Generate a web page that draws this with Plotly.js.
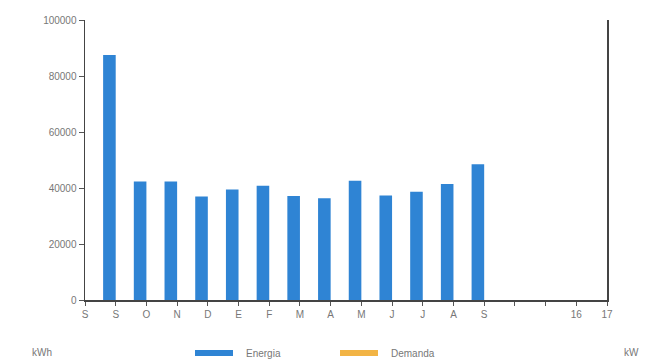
<!DOCTYPE html>
<html>
<head>
<meta charset="utf-8">
<script src="https://cdn.plot.ly/plotly-3.0.1.min.js"></script>
<style>html,body{margin:0;padding:0;background:#fff;}#chart{width:646px;height:360px;}</style>
</head>
<body>
<div id="chart"></div>
<script>
const months = ["S","O","N","D","E","F","M","A","M","J","J","A","S"];
const energia = [87500, 42300, 42300, 37000, 39500, 40800, 37100, 36300, 42600, 37300, 38700, 41400, 48500];
const demanda = [0, 0, 0, 0, 0, 0, 0, 0, 0, 0, 0, 0, 0];
const tickLabels = ["S","S","O","N","D","E","F","M","A","M","J","J","A","S","","","16","17"];
const yTicks = [0, 20000, 40000, 60000, 80000, 100000];

const xPos = months.map((m, i) => i);
const tickPos = tickLabels.map((t, i) => i - 1);

const traces = [
  {type: 'bar', name: 'Energia', x: xPos, y: energia, marker: {color: '#2f84d4'}, hoverinfo: 'y'},
  {type: 'bar', name: 'Demanda', x: xPos, y: demanda, marker: {color: '#f2b445'}, hoverinfo: 'y'}
];

const layout = {
  width: 646, height: 360,
  margin: {l: 85, r: 39, t: 20, b: 60},
  paper_bgcolor: '#fff', plot_bgcolor: '#fff',
  barmode: 'group', bargap: 0.18, bargroupgap: 0,
  showlegend: false,
  font: {family: 'Liberation Sans, Arial, sans-serif', size: 10, color: '#666'},
  xaxis: {
    range: [-1, 16], tickmode: 'array', tickvals: tickPos, ticktext: tickLabels,
    ticks: 'outside', ticklen: 4, tickcolor: '#555', showline: true, linecolor: '#444', linewidth: 1.5,
    showgrid: false, zeroline: false, tickfont: {size: 10, color: '#777'}, fixedrange: true
  },
  yaxis: {
    range: [0, 100000], tickmode: 'array', tickvals: yTicks, ticktext: yTicks.map(String),
    ticks: 'outside', ticklen: 5, tickcolor: '#555', showline: true, linecolor: '#444', linewidth: 1.5,
    mirror: true, showgrid: false, zeroline: false, tickfont: {size: 10, color: '#777'}, fixedrange: true
  },
  shapes: [
    {type: 'rect', xref: 'paper', yref: 'paper', x0: (195-85)/522, x1: (233-85)/522, y0: -(350-300)/280, y1: -(356-300)/280, fillcolor: '#2f84d4', line: {width: 0}},
    {type: 'rect', xref: 'paper', yref: 'paper', x0: (340-85)/522, x1: (378-85)/522, y0: -(350-300)/280, y1: -(356-300)/280, fillcolor: '#f2b445', line: {width: 0}}
  ],
  annotations: [
    {xref: 'paper', yref: 'paper', x: (244-85)/522, y: -(353-300)/280, xanchor: 'left', yanchor: 'middle', text: 'Energia', showarrow: false, font: {size: 10, color: '#777'}},
    {xref: 'paper', yref: 'paper', x: (389-85)/522, y: -(353-300)/280, xanchor: 'left', yanchor: 'middle', text: 'Demanda', showarrow: false, font: {size: 10, color: '#777'}},
    {xref: 'paper', yref: 'paper', x: (30-85)/522, y: -(352-300)/280, xanchor: 'left', yanchor: 'middle', text: 'kWh', showarrow: false, font: {size: 10, color: '#777'}},
    {xref: 'paper', yref: 'paper', x: (622-85)/522, y: -(352-300)/280, xanchor: 'left', yanchor: 'middle', text: 'kW', showarrow: false, font: {size: 10, color: '#777'}}
  ]
};

Plotly.newPlot('chart', traces, layout, {displayModeBar: false, staticPlot: true});
</script>
</body>
</html>
